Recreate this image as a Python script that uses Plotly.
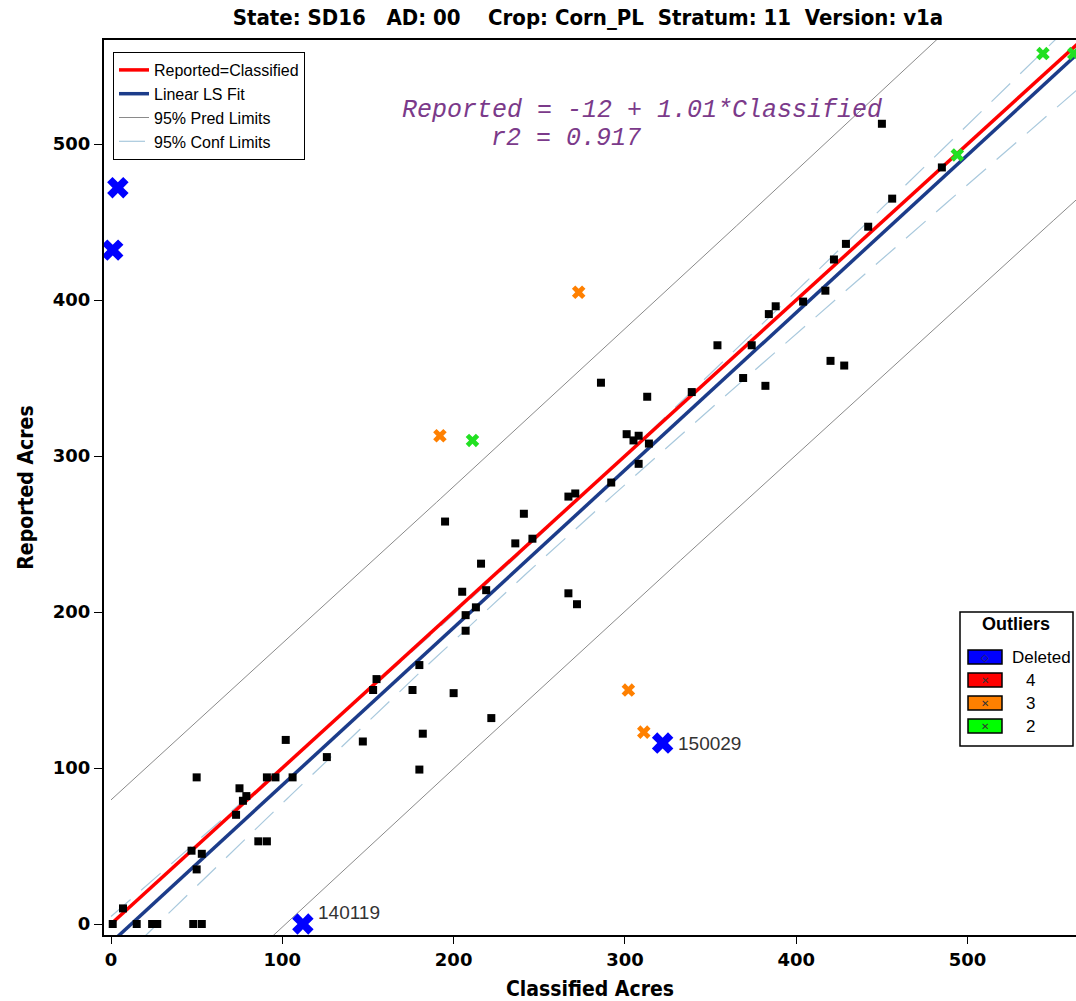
import numpy as np
import plotly.graph_objects as go

# ---------------- data ----------------
classified = [1, 7, 15, 24, 27, 48, 53, 47, 53, 50, 50, 73, 75, 77, 79, 86, 91, 91, 96,
              102, 106, 126, 147, 182, 180, 153, 155, 176, 180, 200, 222, 195, 216, 205,
              219, 213, 207, 207, 236, 241, 246, 267, 272, 267, 271, 286, 313, 354, 339,
              301, 308, 305, 314, 308, 292, 450, 456, 442, 429, 422, 417, 404, 388, 384,
              374, 420, 428, 369, 382, 485]
reported = [0, 10, 0, 0, 0, 0, 0, 47, 45, 35, 94, 70, 87, 79, 82, 53, 53, 94, 94,
            118, 94, 107, 117, 122, 99, 150, 157, 150, 166, 148, 132, 258, 231, 213,
            214, 203, 198, 188, 244, 263, 247, 212, 205, 274, 276, 347, 338, 371, 341,
            314, 313, 310, 308, 295, 283, 513, 465, 447, 436, 426, 406, 399, 396, 391,
            371, 361, 358, 350, 345, 485]

outlier3_x = [273, 192, 302, 311]
outlier3_y = [405, 313, 150, 123]
outlier2_x = [211, 494, 544, 562]
outlier2_y = [310, 493, 558, 558]
deleted_x = [4, 1, 112, 322]
deleted_y = [472, 432, 0, 116]
deleted_ids = ["", "", "140119", "150029"]

# regression summary shown on the chart
intercept = -12.0
slope = 1.01
r_squared = 0.917
# statistics used for the 95% limits
t_times_s = 90.0
n_obs = 120
x_mean = 230.0
sxx = 2.0e6

outlier_classes = ["Deleted", "4", "3", "2"]
outlier_colors = ["#0000ff", "#ff0000", "#ff8000", "#00ff00"]

# ---------------- geometry ----------------
W, H = 1076, 1001
L, R, T, B = 104, 1076, 40, 935      # plot area in pixels
x_range = [-4.09, 563.3]
y_range = [-7.05, 566.7]


def px(xp):
    return (xp - L) / (R - L)


def py(yp):
    return (B - yp) / (B - T)


xs = np.linspace(0, 600, 241)
fit = intercept + slope * xs
conf_hw = t_times_s * np.sqrt(1.0 / n_obs + (xs - x_mean) ** 2 / sxx)
pred_hw = t_times_s * np.sqrt(1.0 + 1.0 / n_obs + (xs - x_mean) ** 2 / sxx)


def two_lines(a, b):
    return np.concatenate([a, [np.nan], b])


xx2 = two_lines(xs, xs)

fig = go.Figure()

fig.add_trace(go.Scatter(x=xx2, y=two_lines(fit + conf_hw, fit - conf_hw), mode="lines",
                         name="95% Conf Limits", legendrank=4,
                         line=dict(color="#a9c9dd", width=1.2, dash="26px,14px")))
fig.add_trace(go.Scatter(x=xx2, y=two_lines(fit + pred_hw, fit - pred_hw), mode="lines",
                         name="95% Pred Limits", legendrank=3,
                         line=dict(color="#8a8a8a", width=1)))
fig.add_trace(go.Scatter(x=xs, y=xs, mode="lines", name="Reported=Classified",
                         legendrank=1, line=dict(color="#ff0000", width=3.5)))
fig.add_trace(go.Scatter(x=xs, y=fit, mode="lines", name="Linear LS Fit",
                         legendrank=2, line=dict(color="#1c3c8a", width=3.5)))

fig.add_trace(go.Scatter(x=classified, y=reported, mode="markers", showlegend=False,
                         marker=dict(symbol="square", size=8, color="black")))
fig.add_trace(go.Scatter(x=outlier3_x, y=outlier3_y, mode="markers", showlegend=False,
                         marker=dict(symbol="x", size=12, color=outlier_colors[2],
                                     line=dict(width=0))))
fig.add_trace(go.Scatter(x=outlier2_x, y=outlier2_y, mode="markers", showlegend=False,
                         marker=dict(symbol="x", size=12, color="#22e022",
                                     line=dict(width=0))))
fig.add_trace(go.Scatter(x=deleted_x, y=deleted_y, mode="markers", showlegend=False,
                         marker=dict(symbol="x", size=19, color=outlier_colors[0],
                                     line=dict(width=0))))

annotations = []
for x0, y0, lab in zip(deleted_x, deleted_y, deleted_ids):
    if lab:
        annotations.append(dict(x=x0, y=y0, xref="x", yref="y", text=lab, showarrow=False,
                                xanchor="left", yanchor="middle", xshift=13,
                                yshift=12 if y0 < 20 else 0,
                                font=dict(family="Liberation Sans, Arial", size=19,
                                          color="#333333")))

eq_font = dict(family="Liberation Mono, Courier New, monospace", size=25, color="#7b3a8a")
annotations.append(dict(x=px(400), y=py(110), xref="paper", yref="paper", showarrow=False,
                        xanchor="left", yanchor="middle",
                        text="<i>Reported = %d + %.2f*Classified</i>" % (intercept, slope),
                        font=eq_font))
annotations.append(dict(x=px(489), y=py(138), xref="paper", yref="paper", showarrow=False,
                        xanchor="left", yanchor="middle",
                        text="<i>r2 = %.3f</i>" % r_squared, font=eq_font))

# Outliers legend box
shapes = [dict(type="rect", xref="paper", yref="paper", x0=px(960), x1=px(1073),
               y0=py(746), y1=py(612), line=dict(color="black", width=1.5),
               fillcolor="white", layer="above")]
annotations.append(dict(x=px(1016), y=py(624), xref="paper", yref="paper", showarrow=False,
                        text="<b>Outliers</b>", xanchor="center", yanchor="middle",
                        font=dict(family="Liberation Sans, Arial", size=18, color="black")))
row_tops = [650, 673, 696, 719]
inner = ["◇", "✕", "✕", "✕"]
for lab, col, top, sym in zip(outlier_classes, outlier_colors, row_tops, inner):
    shapes.append(dict(type="rect", xref="paper", yref="paper", x0=px(968), x1=px(1002),
                       y0=py(top + 14), y1=py(top), line=dict(color="black", width=1.5),
                       fillcolor=col, layer="above"))
    annotations.append(dict(x=px(985), y=py(top + 7), xref="paper", yref="paper",
                            showarrow=False, text=sym, xanchor="center", yanchor="middle",
                            font=dict(size=10, color="#333333")))
    annotations.append(dict(x=px(1010 if lab == "Deleted" else 1024), y=py(top + 7),
                            xref="paper", yref="paper", showarrow=False, text=lab,
                            xanchor="left", yanchor="middle",
                            font=dict(family="Liberation Sans, Arial", size=17, color="black")))

cond_font = "DejaVu Sans Condensed, DejaVu Sans, Liberation Sans"
tick_font = dict(family="DejaVu Sans, Verdana", size=18, color="black", weight="bold")

title_text = ("<b>State:\u00a0SD16\u00a0\u00a0\u00a0AD:\u00a000\u00a0\u00a0\u00a0\u00a0"
              "Crop:\u00a0Corn_PL\u00a0\u00a0Stratum:\u00a011\u00a0\u00a0Version:\u00a0v1a</b>")

fig.update_layout(
    width=W, height=H,
    margin=dict(l=L, r=W - R, t=T, b=H - B, pad=0, autoexpand=False),
    paper_bgcolor="white", plot_bgcolor="white",
    title=dict(text=title_text, xref="container", yref="container",
               x=588 / W, xanchor="center", y=1 - 17 / H, yanchor="middle",
               font=dict(family=cond_font, size=22, color="black")),
    showlegend=True,
    legend=dict(x=px(113), y=py(52), xanchor="left", yanchor="top", bgcolor="white",
                bordercolor="black", borderwidth=1, tracegroupgap=0,
                font=dict(family="Liberation Sans, Arial", size=16, color="black")),
    xaxis=dict(range=x_range, showgrid=False, zeroline=False, showline=True, linewidth=2,
               linecolor="black", mirror=True, ticks="outside", ticklen=7, tickwidth=1,
               tickcolor="black", tickvals=[0, 100, 200, 300, 400, 500], tickfont=tick_font,
               automargin=False,
               title=dict(text="<b>Classified Acres</b>", standoff=16,
                          font=dict(family=cond_font, size=21, color="black"))),
    yaxis=dict(range=y_range, showgrid=False, zeroline=False, showline=True, linewidth=2,
               linecolor="black", ticks="outside", ticklen=8, tickwidth=1, tickcolor="black",
               tickvals=[0, 100, 200, 300, 400, 500], tickfont=tick_font,
               automargin=False,
               title=dict(text="<b>Reported Acres</b>", standoff=13,
                          font=dict(family=cond_font, size=21, color="black"))),
    shapes=shapes,
    annotations=annotations,
)

fig.write_html("out.html",
               config={"displayModeBar": False},
               post_script="document.body.style.margin='0px';"
                           "document.body.style.overflow='hidden';")
